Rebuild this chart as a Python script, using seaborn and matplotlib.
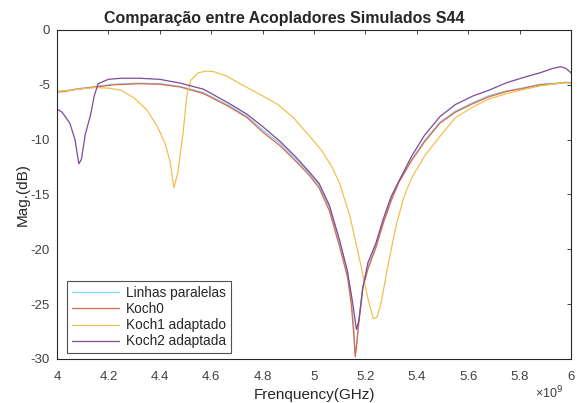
import numpy as np
import pandas as pd
import matplotlib
matplotlib.use("Agg")
import matplotlib.pyplot as plt
import seaborn as sns

# ---- data (frequency in GHz, magnitude in dB) ----
series_names = ["Linhas paralelas", "Koch0", "Koch1 adaptado", "Koch2 adaptada"]

f_lp = [4.00, 4.03, 4.08, 4.15, 4.22, 4.32, 4.40, 4.48, 4.57, 4.67, 4.74, 4.80, 4.87, 4.93, 4.98,
        5.02, 5.06, 5.10, 5.13, 5.145, 5.155, 5.16, 5.165, 5.175, 5.19, 5.21, 5.24, 5.27, 5.30,
        5.33, 5.38, 5.43, 5.49, 5.55, 5.62, 5.68, 5.75, 5.82, 5.88, 5.94, 5.98, 6.00]
mag_lp = [-5.6, -5.55, -5.35, -5.15, -4.95, -4.85, -4.9, -5.15, -5.7, -6.9, -7.9, -9.1, -10.4,
          -11.8, -13.0, -14.2, -16.2, -19.4, -22.0, -24.5, -27.2, -29.4, -28.7, -26.3, -23.4,
          -21.6, -19.7, -17.4, -15.4, -13.8, -11.8, -10.1, -8.4, -7.4, -6.6, -6.0, -5.55,
          -5.25, -4.95, -4.85, -4.75, -4.8]

f_k0 = [4.00, 4.03, 4.08, 4.15, 4.22, 4.32, 4.40, 4.48, 4.57, 4.67, 4.74, 4.80, 4.87, 4.93, 4.98,
        5.02, 5.06, 5.10, 5.13, 5.145, 5.155, 5.16, 5.165, 5.175, 5.19, 5.21, 5.24, 5.27, 5.30,
        5.33, 5.38, 5.43, 5.49, 5.55, 5.62, 5.68, 5.75, 5.82, 5.88, 5.94, 5.98, 6.00]
mag_k0 = [-5.65, -5.6, -5.4, -5.2, -5.0, -4.9, -4.95, -5.2, -5.8, -7.0, -8.0, -9.3, -10.6,
          -12.0, -13.2, -14.4, -16.5, -19.8, -22.5, -25.0, -27.8, -29.8, -29.0, -26.5, -23.5,
          -21.8, -19.9, -17.6, -15.6, -13.9, -11.9, -10.2, -8.5, -7.5, -6.7, -6.1, -5.6,
          -5.3, -5.0, -4.9, -4.8, -4.85]

f_k1 = [4.00, 4.05, 4.10, 4.15, 4.20, 4.25, 4.30, 4.35, 4.39, 4.42, 4.44, 4.455, 4.47, 4.49,
        4.505, 4.52, 4.55, 4.58, 4.61, 4.66, 4.72, 4.80, 4.86, 4.92, 4.98, 5.03, 5.07, 5.10,
        5.14, 5.18, 5.21, 5.23, 5.245, 5.26, 5.29, 5.32, 5.35, 5.38, 5.43, 5.49, 5.55, 5.62,
        5.68, 5.75, 5.82, 5.88, 5.94, 5.98, 6.00]
mag_k1 = [-5.6, -5.5, -5.35, -5.25, -5.3, -5.5, -6.2, -7.3, -8.8, -10.3, -12.0, -14.4, -13.0,
          -9.5, -6.0, -4.6, -3.9, -3.75, -3.8, -4.2, -5.0, -6.0, -6.8, -8.0, -9.6, -11.0,
          -12.5, -14.0, -17.0, -21.2, -24.5, -26.3, -26.2, -25.0, -21.2, -17.8, -15.2, -13.5,
          -11.5, -9.7, -8.0, -7.0, -6.3, -5.8, -5.4, -5.1, -4.9, -4.8, -4.85]

f_k2 = [4.00, 4.02, 4.05, 4.07, 4.085, 4.095, 4.11, 4.13, 4.145, 4.16, 4.20, 4.25, 4.32, 4.40,
        4.48, 4.57, 4.67, 4.74, 4.80, 4.87, 4.93, 4.98, 5.02, 5.06, 5.10, 5.13, 5.15, 5.165,
        5.175, 5.19, 5.21, 5.24, 5.27, 5.30, 5.33, 5.38, 5.43, 5.49, 5.55, 5.62, 5.68, 5.75,
        5.82, 5.88, 5.93, 5.96, 5.98, 6.00]
mag_k2 = [-7.2, -7.5, -8.5, -10.0, -12.2, -11.8, -9.5, -7.8, -6.0, -4.9, -4.5, -4.4, -4.4,
          -4.5, -4.85, -5.4, -6.7, -7.7, -8.8, -10.2, -11.6, -12.9, -14.0, -16.0, -19.2,
          -22.0, -24.8, -27.3, -26.5, -23.5, -21.2, -19.5, -17.2, -15.2, -13.8, -11.5, -9.6,
          -7.9, -6.8, -6.0, -5.5, -4.8, -4.3, -3.9, -3.5, -3.35, -3.5, -3.9]

x_ticks = [4, 4.2, 4.4, 4.6, 4.8, 5, 5.2, 5.4, 5.6, 5.8, 6]
y_ticks = [-30, -25, -20, -15, -10, -5, 0]

# ---- build long-form table ----
frames = []
for name, f, m in zip(series_names, [f_lp, f_k0, f_k1, f_k2], [mag_lp, mag_k0, mag_k1, mag_k2]):
    frames.append(pd.DataFrame({"freq": f, "mag": m, "serie": name}))
df = pd.concat(frames, ignore_index=True)

sns.set_style("white")
plt.rcParams['font.family'] = ['Liberation Sans', 'DejaVu Sans']

colors = {"Linhas paralelas": "#86d0f0",
          "Koch0": "#d9694a",
          "Koch1 adaptado": "#f0c050",
          "Koch2 adaptada": "#7e4a95"}

fig = plt.figure(figsize=(5.77, 4.03), dpi=100)
ax = fig.add_axes([0.0988, 0.1092, 0.8908, 0.8164])

sns.lineplot(data=df, x="freq", y="mag", hue="serie", hue_order=series_names,
             palette=colors, sort=False, estimator=None, linewidth=0.9, ax=ax)

ax.set_xlim(4, 6)
ax.set_ylim(-30, 0)
ax.set_xticks(x_ticks)
ax.set_xticklabels([f"{t:g}" for t in x_ticks])
ax.set_yticks(y_ticks)
ax.set_yticklabels([f"{t:g}" for t in y_ticks])
ax.tick_params(direction="in", top=True, right=True, length=3, width=0.6,
               labelsize=9.5, colors="#262626", labelcolor="#404040")
ax.tick_params(axis="x", pad=9)
ax.tick_params(axis="y", pad=5)
for s in ax.spines.values():
    s.set_color("#262626")
    s.set_linewidth(0.8)

ax.set_title("Comparação entre Acopladores Simulados S44", fontsize=11.5,
             fontweight="bold", pad=5, x=0.4416)
ax.set_xlabel("Frenquency(GHz)", fontsize=11, labelpad=3)
ax.set_ylabel("Mag.(dB)", fontsize=11, labelpad=1)
ax.text(0.985, -0.078, "×10$^9$", transform=ax.transAxes, ha="right", va="top",
        fontsize=9, color="#404040")

leg = ax.legend(loc="lower left", bbox_to_anchor=(0.0195, 0.018), borderaxespad=0,
                fontsize=9.8, handlelength=3.5, frameon=True, fancybox=False,
                borderpad=0.35, labelspacing=0.15, handletextpad=0.5)
leg.get_frame().set_edgecolor("#262626")
leg.get_frame().set_linewidth(0.8)

fig.savefig("out.png", dpi=100)
